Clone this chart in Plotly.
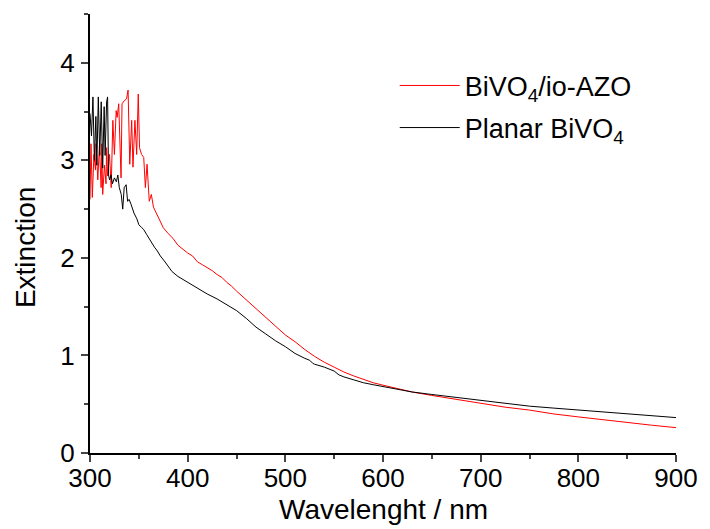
import plotly.graph_objects as go

# Wavelength (nm) and extinction values
red_wl = [300, 301, 302.4, 304, 305.6, 306.2, 308, 309.6, 311.4, 312, 313, 314.8, 316.4, 317, 318,
          320, 321.7, 323.4, 325, 326.8, 327.8, 329.4, 331.8, 332.8, 335, 337.4, 339, 340.7, 342.7,
          344, 346, 347.8, 349.4, 350.7, 352.8, 355, 356.7, 358.4, 360.7, 362.8, 365, 368.4, 371.8,
          375, 380, 385, 390, 395, 400, 405, 410, 415, 420, 425, 430, 435, 440, 445, 450, 460, 470,
          480, 490, 500, 510, 520, 530, 540, 550, 560, 570, 580, 590, 600, 610, 620, 630, 650, 675,
          700, 725, 750, 775, 800, 825, 850, 875, 900]
red_ext = [2.60, 3.17, 2.62, 3.06, 2.90, 3.17, 2.80, 3.15, 2.72, 3.17, 2.65, 2.95, 2.76, 3.13, 2.84,
           3.06, 2.72, 3.41, 3.06, 3.51, 3.44, 3.58, 2.82, 3.58, 3.61, 3.63, 3.72, 2.96, 3.41,
           2.93, 3.41, 3.06, 3.68, 3.13, 3.06, 3.03, 2.72, 2.96, 2.58, 2.65, 2.52, 2.45, 2.38,
           2.31, 2.25, 2.20, 2.13, 2.09, 2.05, 2.02, 1.96, 1.93, 1.90, 1.87, 1.83, 1.80, 1.75, 1.71,
           1.66, 1.57, 1.47, 1.38, 1.29, 1.21, 1.14, 1.06, 0.99, 0.93, 0.88, 0.83, 0.79, 0.755,
           0.72, 0.695, 0.67, 0.645, 0.625, 0.59, 0.55, 0.507, 0.47, 0.44, 0.40, 0.37, 0.34, 0.31,
           0.285, 0.26]

blk_wl = [300, 301.5, 303, 304.5, 306, 307, 308.5, 310, 311.5, 313, 314.5, 315.5, 317, 318, 319,
          320, 321.5, 323, 325, 327, 328.5, 330, 332, 333.5, 335, 337, 338.5, 340, 342, 345, 348,
          350, 353, 355, 358, 362, 366, 369, 372, 376, 380, 384, 390, 395, 400, 410, 420, 430, 440,
          450, 460, 470, 480, 490, 500, 510, 520, 525, 528, 530, 540, 550, 555, 560, 570, 580, 590,
          600, 615, 630, 650, 675, 700, 725, 750, 775, 800, 825, 850, 875, 900]
blk_ext = [3.48, 3.25, 3.65, 3.00, 3.45, 2.95, 3.65, 3.05, 3.60, 2.92, 3.55, 3.05, 3.60, 3.65, 2.85,
           2.80, 2.85, 2.76, 2.82, 2.78, 2.85, 2.72, 2.65, 2.50, 2.72, 2.75, 2.58, 2.60, 2.55, 2.46,
           2.40, 2.34, 2.31, 2.29, 2.24, 2.17, 2.11, 2.07, 2.02, 1.97, 1.92, 1.86, 1.81, 1.78, 1.75,
           1.69, 1.63, 1.58, 1.52, 1.46, 1.38, 1.29, 1.22, 1.15, 1.09, 1.02, 0.97, 0.95, 0.92, 0.91,
           0.88, 0.84, 0.80, 0.78, 0.75, 0.72, 0.70, 0.68, 0.65, 0.625, 0.60, 0.57, 0.54, 0.51,
           0.48, 0.46, 0.44, 0.42, 0.40, 0.38, 0.363]

x_ticks = [300, 400, 500, 600, 700, 800, 900]
y_ticks = [0, 1, 2, 3, 4]

FONT = "Liberation Sans, Arial, sans-serif"

fig = go.Figure()
fig.add_trace(go.Scatter(x=red_wl, y=red_ext, mode="lines", name="BiVO<sub>4</sub>/io-AZO",
                         legendgroup="a", line=dict(color="#ff0000", width=1)))
fig.add_trace(go.Scatter(x=blk_wl, y=blk_ext, mode="lines", name="Planar BiVO<sub>4</sub>",
                         legendgroup="b", line=dict(color="#000000", width=1)))

fig.update_layout(
    width=710, height=529,
    margin=dict(l=90, r=24, t=14, b=76),
    paper_bgcolor="white", plot_bgcolor="white",
    font=dict(family=FONT, color="black", size=25),
    showlegend=True,
    legend=dict(x=0.52, y=0.892, xanchor="left", yanchor="top",
                font=dict(size=27, family=FONT), bgcolor="rgba(0,0,0,0)",
                itemwidth=60, traceorder="grouped", tracegroupgap=4),
    xaxis=dict(range=[300, 900], tickvals=x_ticks, ticks="outside", ticklen=7, tickwidth=1.5,
               showline=True, linecolor="black", linewidth=2, showgrid=False, zeroline=False,
               tickfont=dict(size=26), ticklabelstandoff=-6,
               minor=dict(ticks="outside", ticklen=4, dtick=50, tick0=300, tickwidth=1.5, showgrid=False)),
    yaxis=dict(range=[0, 4.5], tickvals=y_ticks, ticks="outside", ticklen=7, tickwidth=1.5,
               showline=True, linecolor="black", linewidth=2, showgrid=False, zeroline=False,
               tickfont=dict(size=26), ticklabelstandoff=1,
               minor=dict(ticks="outside", ticklen=4, dtick=0.5, tick0=0, tickwidth=1.5, showgrid=False)),
    xaxis2=dict(range=[300, 900], overlaying="x", side="top", dtick=50, tick0=300,
                ticks="inside", ticklen=4, tickwidth=1.5, showticklabels=False,
                showline=True, linecolor="black", linewidth=2, showgrid=False, zeroline=False),
    yaxis2=dict(range=[0, 4.5], overlaying="y", side="right", dtick=0.5, tick0=0,
                ticks="inside", ticklen=4, tickwidth=1.5, showticklabels=False,
                showline=True, linecolor="black", linewidth=2, showgrid=False, zeroline=False),
    annotations=[
        dict(text="Extinction", textangle=-90, xref="paper", yref="paper",
             x=-0.109, y=0.467, xanchor="center", yanchor="middle", showarrow=False,
             font=dict(size=28, family=FONT)),
        dict(text="Wavelenght / nm", xref="paper", yref="paper",
             x=0.5, y=-0.128, xanchor="center", yanchor="middle", showarrow=False,
             font=dict(size=28, family=FONT)),
    ],
)

fig.write_html("out.html", config={"displayModeBar": False},
               post_script="document.body.style.margin='0';")
